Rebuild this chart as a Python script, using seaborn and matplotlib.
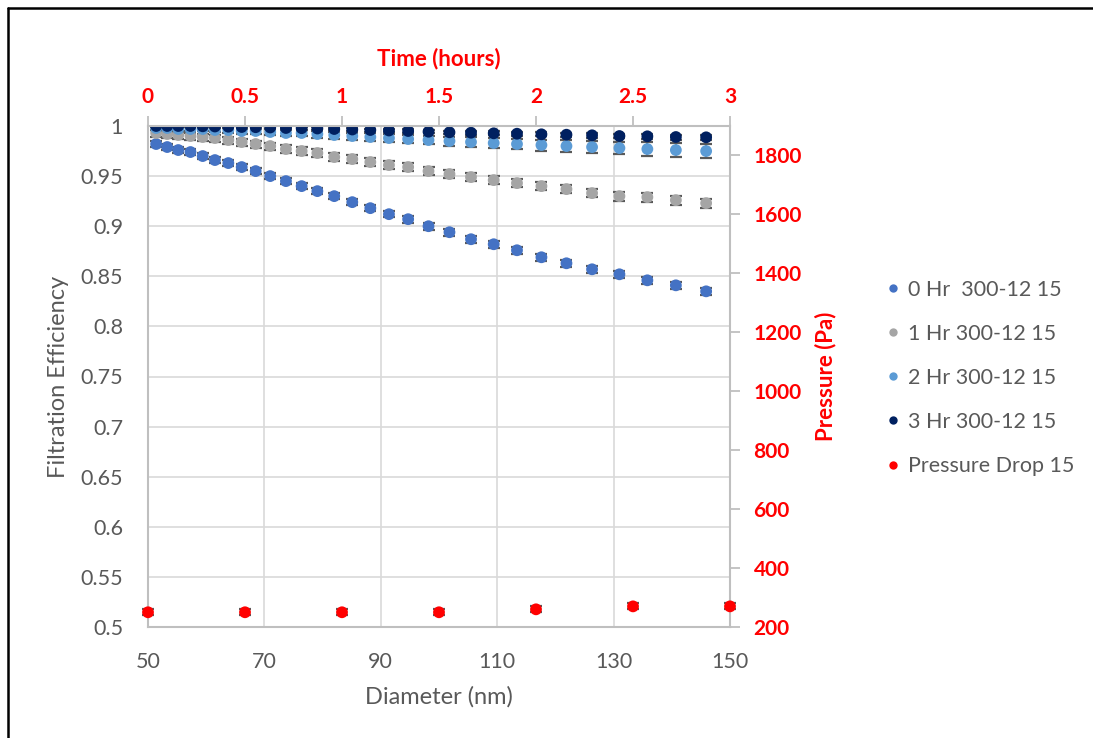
import matplotlib
matplotlib.use("Agg")
import matplotlib.pyplot as plt
from matplotlib.lines import Line2D
from matplotlib.ticker import FormatStrFormatter, MultipleLocator
import seaborn as sns
import pandas as pd

# SMPS channel midpoints (nm)
diameter_nm = [51.4, 53.3, 55.2, 57.3, 59.4, 61.5, 63.8, 66.1, 68.5, 71.0,
               73.7, 76.4, 79.1, 82.0, 85.1, 88.2, 91.4, 94.7, 98.2, 101.8,
               105.5, 109.4, 113.4, 117.6, 121.9, 126.3, 131.0, 135.8, 140.7, 145.9]

eff_0hr = [0.982, 0.979, 0.976, 0.974, 0.970, 0.966, 0.963, 0.959, 0.955, 0.950,
           0.945, 0.940, 0.935, 0.930, 0.924, 0.918, 0.912, 0.907, 0.900, 0.894,
           0.887, 0.882, 0.876, 0.869, 0.863, 0.857, 0.852, 0.846, 0.841, 0.835]
eff_1hr = [0.993, 0.992, 0.991, 0.990, 0.989, 0.988, 0.986, 0.984, 0.982, 0.980,
           0.977, 0.975, 0.973, 0.969, 0.967, 0.964, 0.961, 0.959, 0.955, 0.952,
           0.949, 0.946, 0.943, 0.940, 0.937, 0.933, 0.930, 0.929, 0.926, 0.923]
eff_2hr = [0.998, 0.998, 0.997, 0.997, 0.997, 0.996, 0.996, 0.995, 0.995, 0.994,
           0.993, 0.993, 0.992, 0.991, 0.990, 0.989, 0.988, 0.987, 0.986, 0.985,
           0.984, 0.983, 0.982, 0.981, 0.980, 0.979, 0.978, 0.977, 0.976, 0.975]
eff_3hr = [1.000, 1.000, 1.000, 1.000, 0.9997, 0.9995, 0.9993, 0.999, 0.9988, 0.9985,
           0.998, 0.9978, 0.9975, 0.997, 0.9965, 0.996, 0.9955, 0.995, 0.9943, 0.9937,
           0.9933, 0.9927, 0.9923, 0.9917, 0.9913, 0.9907, 0.990, 0.9897, 0.989, 0.9887]

err_0hr = [0.003, 0.003, 0.003, 0.003, 0.003, 0.003, 0.003, 0.003, 0.003, 0.003,
           0.003, 0.003, 0.003, 0.003, 0.003, 0.003, 0.003, 0.0035, 0.0035, 0.0035,
           0.0035, 0.0035, 0.0035, 0.0035, 0.0035, 0.0035, 0.0035, 0.0035, 0.0035, 0.0035]
err_1hr = [0.0035, 0.0035, 0.0035, 0.0035, 0.0035, 0.0035, 0.0035, 0.0035, 0.0035, 0.0035,
           0.0037, 0.0037, 0.0037, 0.0037, 0.0038, 0.0038, 0.0038, 0.0038, 0.004, 0.004,
           0.004, 0.004, 0.0042, 0.0042, 0.0042, 0.0043, 0.0044, 0.0045, 0.0045, 0.0046]
err_2hr = [0.002, 0.002, 0.002, 0.002, 0.002, 0.002, 0.0025, 0.0025, 0.0025, 0.003,
           0.003, 0.003, 0.0035, 0.0035, 0.0035, 0.004, 0.004, 0.004, 0.0042, 0.0045,
           0.0048, 0.005, 0.0052, 0.0055, 0.0058, 0.006, 0.0063, 0.0066, 0.007, 0.0072]
err_3hr = [0.001, 0.001, 0.001, 0.001, 0.001, 0.001, 0.001, 0.001, 0.0012, 0.0012,
           0.0012, 0.0014, 0.0014, 0.0014, 0.0015, 0.0015, 0.0016, 0.0016, 0.0017, 0.0018,
           0.0018, 0.0019, 0.002, 0.002, 0.0021, 0.0022, 0.0023, 0.0024, 0.0025, 0.0025]

time_hr = [0, 0.5, 1.0, 1.5, 2.0, 2.5, 3.0]
pressure_pa = [250, 250, 250, 250, 260, 270, 270]
pressure_err = [10, 10, 10, 10, 10, 10, 10]

diameter_ticks = [50, 70, 90, 110, 130, 150]
pressure_ticks = [200, 400, 600, 800, 1000, 1200, 1400, 1600, 1800]

series_names = ["0 Hr  300-12 15", "1 Hr 300-12 15", "2 Hr 300-12 15", "3 Hr 300-12 15"]
series_colors = ["#4472C4", "#A5A5A5", "#5B9BD5", "#002060"]
pressure_name = "Pressure Drop 15"

sns.set_theme(style="white")
plt.rcParams["font.family"] = ["Lato", "DejaVu Sans"]

text_gray = "#595959"
axis_gray = "#BFBFBF"
grid_gray = "#D9D9D9"
red = "#FF0000"

# long-form table for seaborn
frames = []
for name, eff, err in zip(series_names, [eff_0hr, eff_1hr, eff_2hr, eff_3hr],
                          [err_0hr, err_1hr, err_2hr, err_3hr]):
    frames.append(pd.DataFrame({"Diameter": diameter_nm, "Efficiency": eff,
                                "Err": err, "Series": name}))
eff_df = pd.concat(frames, ignore_index=True)
press_df = pd.DataFrame({"Time": time_hr, "Pressure": pressure_pa, "Err": pressure_err})

W, H = 1093, 738
fig = plt.figure(figsize=(W / 100, H / 100), dpi=100)
rect = [148 / W, 1 - 627 / H, (730 - 148) / W, (627 - 126) / H]
ax = fig.add_axes(rect)

marker_area = 72
for i, (name, color) in enumerate(zip(series_names, series_colors)):
    sub = eff_df[eff_df["Series"] == name]
    ax.errorbar(sub["Diameter"], sub["Efficiency"], yerr=sub["Err"], fmt="none",
                ecolor=text_gray, elinewidth=1.2, capsize=4.5, capthick=1.6,
                zorder=2 + 2 * i)
    sns.scatterplot(data=sub, x="Diameter", y="Efficiency", color=color, s=marker_area,
                    edgecolor="none", linewidth=0, legend=False, ax=ax,
                    zorder=3 + 2 * i)

ax.set_xlim(50, 150)
ax.set_ylim(0.5, 1.0)
ax.set_xticks(diameter_ticks)
ax.yaxis.set_major_locator(MultipleLocator(0.05))
ax.yaxis.set_major_formatter(FormatStrFormatter("%g"))
ax.grid(True, color=grid_gray, linewidth=1.2)
ax.set_axisbelow(True)
for side in ["top", "right"]:
    ax.spines[side].set_visible(False)
for side in ["left", "bottom"]:
    ax.spines[side].set_color(axis_gray)
    ax.spines[side].set_linewidth(1.5)
ax.tick_params(axis="both", length=0, labelsize=15.5, labelcolor=text_gray)
ax.tick_params(axis="x", pad=18)
ax.tick_params(axis="y", pad=18)
ax.set_xlabel("Diameter (nm)", fontsize=17, color=text_gray, labelpad=10)
ax.set_ylabel("Filtration Efficiency", fontsize=17, color=text_gray, labelpad=8)

# secondary axes: time on top, pressure on right
ax2 = fig.add_axes(rect, facecolor="none")
ax2.errorbar(press_df["Time"], press_df["Pressure"], yerr=press_df["Err"], fmt="none",
             ecolor=text_gray, elinewidth=1.2, capsize=4.5, capthick=1.6,
             zorder=2, clip_on=False)
sns.scatterplot(data=press_df, x="Time", y="Pressure", color=red, s=marker_area,
                edgecolor="none", linewidth=0, legend=False, ax=ax2,
                zorder=3, clip_on=False)
ax2.set_xlim(0, 3)
ax2.set_ylim(200, 1900)
ax2.xaxis.set_major_locator(MultipleLocator(0.5))
ax2.xaxis.set_major_formatter(FormatStrFormatter("%g"))
ax2.set_yticks(pressure_ticks)
ax2.xaxis.tick_top()
ax2.xaxis.set_label_position("top")
ax2.yaxis.tick_right()
ax2.yaxis.set_label_position("right")
for side in ["left", "bottom"]:
    ax2.spines[side].set_visible(False)
for side in ["top", "right"]:
    ax2.spines[side].set_color(axis_gray)
    ax2.spines[side].set_linewidth(1.5)
ax2.tick_params(axis="both", direction="out", length=7, width=1.3, color=axis_gray,
                labelsize=15, labelcolor=red)
ax2.tick_params(axis="x", pad=7)
ax2.tick_params(axis="y", pad=10)
for lbl in ax2.get_xticklabels() + ax2.get_yticklabels():
    lbl.set_fontweight("bold")
ax2.set_xlabel("Time (hours)", fontsize=16, color=red, fontweight="bold", labelpad=15)
ax2.set_ylabel("Pressure (Pa)", fontsize=16, color=red, fontweight="bold", labelpad=9)

# legend
handles = [Line2D([], [], linestyle="none", marker="o", markersize=6,
                  markerfacecolor=c, markeredgecolor="none")
           for c in series_colors + [red]]
labels = series_names + [pressure_name]
fig.legend(handles, labels, loc="upper left", bbox_to_anchor=(879 / W, 1 - 271 / H),
           frameon=False, fontsize=15.5, labelcolor=text_gray, handlelength=0.5,
           handletextpad=0.45, labelspacing=1.12, borderaxespad=0)

# chart border (left and top edges visible)
fig.add_artist(Line2D([8 / W, 8 / W], [0, 1 - 8 / H], color="black", linewidth=1.8))
fig.add_artist(Line2D([8 / W, 1], [1 - 8 / H, 1 - 8 / H], color="black", linewidth=1.8))

fig.savefig("out.png", dpi=100)
